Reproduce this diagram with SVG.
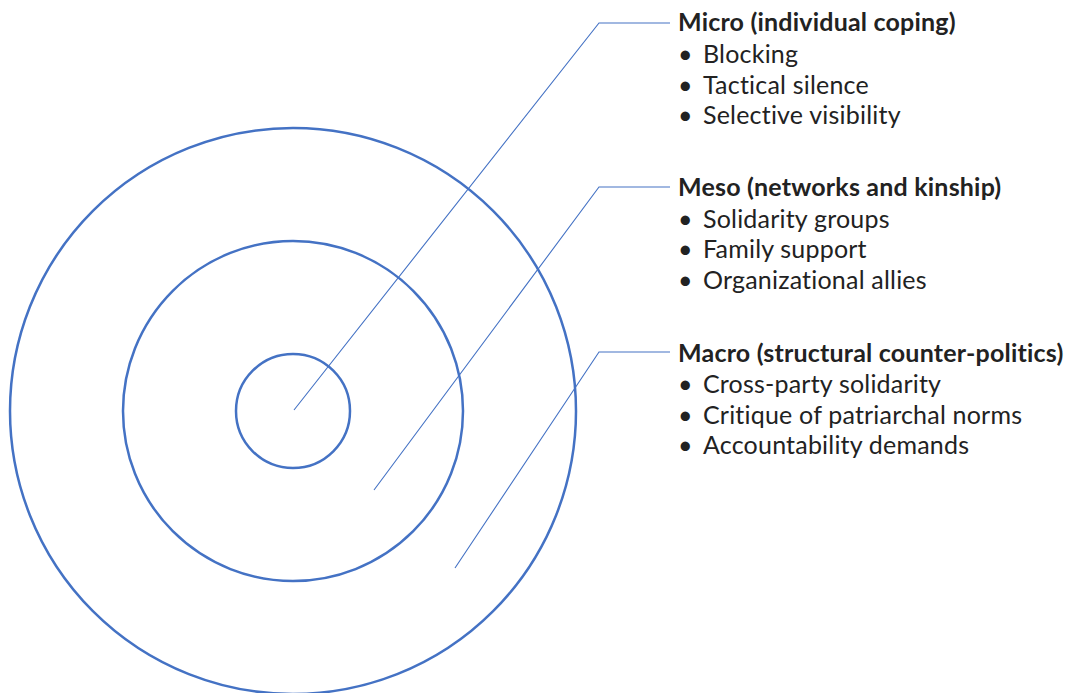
<svg xmlns="http://www.w3.org/2000/svg" width="1069" height="693" viewBox="0 0 1069 693">
  <style>
    .ring { fill: none; stroke: #4472C4; stroke-width: 2.5; }
    .leader { fill: none; stroke: #4472C4; stroke-width: 1.1; }
    .head { font-family: Lato, "Liberation Sans", sans-serif; font-weight: 700; font-size: 25px; letter-spacing: 0.2px; fill: #222; }
    .item { font-family: Lato, "Liberation Sans", sans-serif; font-size: 25px; letter-spacing: 0.2px; fill: #222; }
  </style>
  <rect width="1069" height="693" fill="#fff"/>

  <!-- concentric levels -->
  <g id="ring-macro"><circle class="ring" cx="293" cy="411" r="283"/></g>
  <g id="ring-meso"><circle class="ring" cx="293" cy="411" r="170"/></g>
  <g id="ring-micro"><circle class="ring" cx="293" cy="411" r="57"/></g>

  <!-- leader lines from each ring to its label -->
  <g id="connectors">
    <polyline class="leader" points="294,410 599,23 670,23"/>
    <polyline class="leader" points="374,490 599,187 670,187"/>
    <polyline class="leader" points="455,568 599,352 670,352"/>
  </g>

  <g id="label-micro">
    <text class="head" x="678" y="31">Micro (individual coping)</text>
    <text class="item" x="678" y="62.5">•</text><text class="item" x="703" y="62.5">Blocking</text>
    <text class="item" x="678" y="93.5">•</text><text class="item" x="703" y="93.5">Tactical silence</text>
    <text class="item" x="678" y="124">•</text><text class="item" x="703" y="124">Selective visibility</text>
  </g>

  <g id="label-meso">
    <text class="head" x="678" y="195.5">Meso (networks and kinship)</text>
    <text class="item" x="678" y="227.5">•</text><text class="item" x="703" y="227.5">Solidarity groups</text>
    <text class="item" x="678" y="258">•</text><text class="item" x="703" y="258">Family support</text>
    <text class="item" x="678" y="288.5">•</text><text class="item" x="703" y="288.5">Organizational allies</text>
  </g>

  <g id="label-macro">
    <text class="head" x="678" y="361.5">Macro (structural counter-politics)</text>
    <text class="item" x="678" y="392.5">•</text><text class="item" x="703" y="392.5">Cross-party solidarity</text>
    <text class="item" x="678" y="423.5">•</text><text class="item" x="703" y="423.5">Critique of patriarchal norms</text>
    <text class="item" x="678" y="453.5">•</text><text class="item" x="703" y="453.5">Accountability demands</text>
  </g>
</svg>
